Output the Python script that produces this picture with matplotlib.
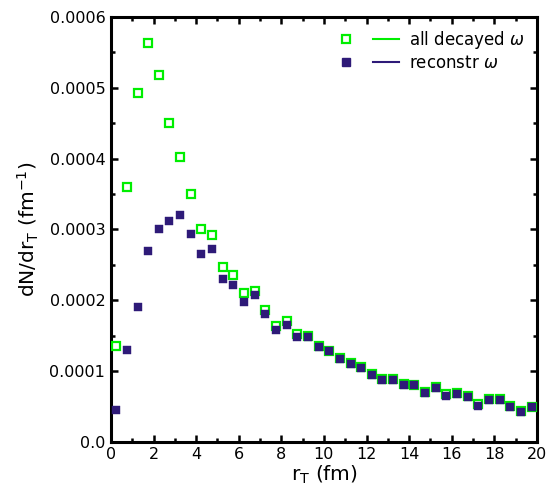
import numpy as np
import matplotlib
matplotlib.use("Agg")
import matplotlib.pyplot as plt
from matplotlib.lines import Line2D
from matplotlib.legend_handler import HandlerTuple
from matplotlib.ticker import MultipleLocator, FixedLocator, FixedFormatter

# bin centres in r_T (fm)
r_t = np.arange(0.25, 20.0, 0.5)

all_decayed = [0.000135, 0.000360, 0.000493, 0.000563, 0.000518, 0.000450, 0.000402, 0.000350,
               0.000300, 0.000292, 0.000247, 0.000236, 0.000210, 0.000213, 0.000186, 0.000163,
               0.000170, 0.000152, 0.000150, 0.000135, 0.000129, 0.000118, 0.000111, 0.000106,
               0.000096, 0.000089, 0.000089, 0.000082, 0.000081, 0.000070, 0.000077, 0.000067,
               0.000069, 0.000065, 0.000053, 0.000060, 0.000061, 0.000051, 0.000044, 0.000050]
reconstr = [0.000045, 0.000130, 0.000190, 0.000270, 0.000300, 0.000312, 0.000320, 0.000293,
            0.000265, 0.000272, 0.000230, 0.000222, 0.000198, 0.000207, 0.000180, 0.000158,
            0.000165, 0.000148, 0.000148, 0.000134, 0.000128, 0.000117, 0.000110, 0.000105,
            0.000095, 0.000088, 0.000087, 0.000081, 0.000080, 0.000069, 0.000076, 0.000065,
            0.000068, 0.000064, 0.000051, 0.000059, 0.000059, 0.000050, 0.000042, 0.000049]

yticks = [0.0, 0.0001, 0.0002, 0.0003, 0.0004, 0.0005, 0.0006]
ytick_labels = ['0.0', '0.0001', '0.0002', '0.0003', '0.0004', '0.0005', '0.0006']

green = '#00ee00'
blue = '#2e1a78'

fig = plt.figure(figsize=(5.49, 4.96), dpi=100)
ax = fig.add_axes([0.202, 0.109, 0.776, 0.857])

ax.plot(r_t, all_decayed, ls='none', marker='s', ms=5.6, mfc='white', mec=green, mew=1.6, zorder=3)
ax.plot(r_t, reconstr, ls='none', marker='s', ms=5.2, mfc=blue, mec=blue, mew=0.3, zorder=4)

ax.set_xlim(0, 20)
ax.set_ylim(0, 0.0006)
ax.xaxis.set_major_locator(MultipleLocator(2))
ax.xaxis.set_minor_locator(MultipleLocator(1))
ax.yaxis.set_major_locator(FixedLocator(yticks))
ax.yaxis.set_major_formatter(FixedFormatter(ytick_labels))
ax.yaxis.set_minor_locator(MultipleLocator(0.00005))
ax.tick_params(which='both', direction='in', top=True, right=True, width=1.8, labelsize=11.5)
ax.tick_params(which='major', length=5, pad=4)
ax.tick_params(which='minor', length=3)
for s in ax.spines.values():
    s.set_linewidth(2.2)

ax.set_xlabel(r'r$_\mathrm{T}$ (fm)', fontsize=14.5, labelpad=1)
ax.set_ylabel(r'dN/dr$_\mathrm{T}$ (fm$^{-1}$)', fontsize=14.5, labelpad=6)

h1 = (Line2D([], [], ls='none', marker='s', ms=5.6, mfc='white', mec=green, mew=1.6),
      Line2D([], [], color=green, lw=1.5))
h2 = (Line2D([], [], ls='none', marker='s', ms=5.6, mfc=blue, mec=blue),
      Line2D([], [], color=blue, lw=1.5))
ax.legend([h1, h2], [r'all decayed $\omega$', r'reconstr $\omega$'],
          handler_map={tuple: HandlerTuple(ndivide=None, pad=0.8)},
          loc='upper right', frameon=False, fontsize=12, handlelength=4.0,
          handletextpad=0.6, labelspacing=0.2, borderaxespad=0.3)

fig.savefig('out.png', dpi=100)
